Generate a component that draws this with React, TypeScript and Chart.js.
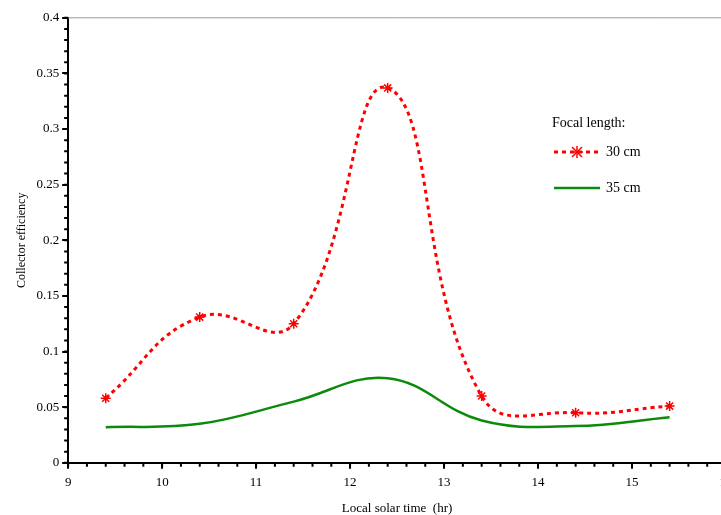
import React, { useEffect, useRef } from "react";
import Chart from "chart.js/auto";

const times = [9.4, 10.4, 11.4, 12.4, 13.4, 14.4, 15.4];
const eff30 = [0.058, 0.131, 0.125, 0.337, 0.06, 0.045, 0.051];
const eff35 = [0.032, 0.035, 0.055, 0.076, 0.038, 0.033, 0.041];

const font = "'Liberation Serif', 'Times New Roman', serif";

const frame = {
  id: "frame",
  afterDraw(chart: any) {
    const { ctx, chartArea: a, scales } = chart;
    ctx.save();
    ctx.strokeStyle = "#999";
    ctx.lineWidth = 1;
    ctx.beginPath();
    ctx.moveTo(a.left, a.top);
    ctx.lineTo(a.right, a.top);
    ctx.lineTo(a.right, a.bottom);
    ctx.stroke();
    ctx.strokeStyle = "#000";
    ctx.lineWidth = 2;
    ctx.beginPath();
    for (let v = 0; v <= 0.4001; v += 0.01) {
      const y = scales.y.getPixelForValue(v);
      ctx.moveTo(a.left - 4, y);
      ctx.lineTo(a.left, y);
    }
    for (let v = 9; v <= 16.001; v += 0.2) {
      const x = scales.x.getPixelForValue(v);
      ctx.moveTo(x, a.bottom);
      ctx.lineTo(x, a.bottom + 4);
    }
    ctx.stroke();
    ctx.restore();
  },
};

const App: React.FC = () => {
  const ref = useRef<HTMLCanvasElement>(null);

  useEffect(() => {
    const ctx = ref.current?.getContext("2d");
    if (!ctx) return;
    const chart = new Chart(ctx, {
      type: "line",
      data: {
        datasets: [
          {
            label: "30 cm",
            data: times.map((t, i) => ({ x: t, y: eff30[i] })),
            borderColor: "#ff0000",
            backgroundColor: "#ff0000",
            borderDash: [4, 4],
            borderWidth: 3,
            tension: 0.45,
            pointStyle: "star",
            pointRadius: 5,
            pointBorderWidth: 1.5,
          },
          {
            label: "35 cm",
            data: times.map((t, i) => ({ x: t, y: eff35[i] })),
            borderColor: "#0b8a0b",
            backgroundColor: "#0b8a0b",
            borderWidth: 2.5,
            tension: 0.4,
            pointRadius: 0,
          },
        ],
      },
      options: {
        animation: false,
        responsive: false,
        layout: { padding: { top: 10, right: 34, left: 11, bottom: 2 } },
        plugins: { legend: { display: false }, tooltip: { enabled: false } },
        scales: {
          x: {
            type: "linear",
            min: 9,
            max: 16,
            ticks: { stepSize: 1, color: "#000", font: { family: font, size: 13 }, padding: 6 },
            grid: { drawOnChartArea: false, tickLength: 6, color: "#000", lineWidth: 2 },
            border: { color: "#000", width: 2 },
            title: { display: true, text: "Local solar time  (hr)", color: "#000", font: { family: font, size: 13 } },
          },
          y: {
            min: 0,
            max: 0.4,
            ticks: { stepSize: 0.05, color: "#000", font: { family: font, size: 13 }, callback: (v: any) => String(Math.round(v * 100) / 100) },
            grid: { drawOnChartArea: false, tickLength: 6, color: "#000", lineWidth: 2 },
            border: { color: "#000", width: 2 },
            title: { display: true, text: "Collector efficiency", color: "#000", font: { family: font, size: 12 } },
          },
        },
      },
      plugins: [frame],
    });
    return () => chart.destroy();
  }, []);

  return (
    <div style={{ position: "absolute", left: 0, top: 0, width: 721, height: 515, overflow: "hidden", background: "#fff" }}>
      <canvas ref={ref} width={760} height={515} style={{ position: "absolute", left: 0, top: 7, width: 760, height: 515 }} />
      <div style={{ position: "absolute", left: 552, top: 115, fontFamily: font, fontSize: 14, color: "#000" }}>
        <div>Focal length:</div>
        <div style={{ display: "flex", alignItems: "center", marginTop: 13 }}>
          <svg width={50} height={14}>
            <line x1={2} y1={7} x2={48} y2={7} stroke="#ff0000" strokeWidth={3} strokeDasharray="4 4" />
            <g stroke="#ff0000" strokeWidth={1.5}>
              <line x1={20} y1={2} x2={30} y2={12} />
              <line x1={30} y1={2} x2={20} y2={12} />
              <line x1={25} y1={1} x2={25} y2={13} />
              <line x1={19} y1={7} x2={31} y2={7} />
            </g>
          </svg>
          <span style={{ marginLeft: 4 }}>30 cm</span>
        </div>
        <div style={{ display: "flex", alignItems: "center", marginTop: 20 }}>
          <svg width={50} height={14}>
            <line x1={2} y1={7} x2={48} y2={7} stroke="#0b8a0b" strokeWidth={2.5} />
          </svg>
          <span style={{ marginLeft: 4 }}>35 cm</span>
        </div>
      </div>
    </div>
  );
};

export default App;
